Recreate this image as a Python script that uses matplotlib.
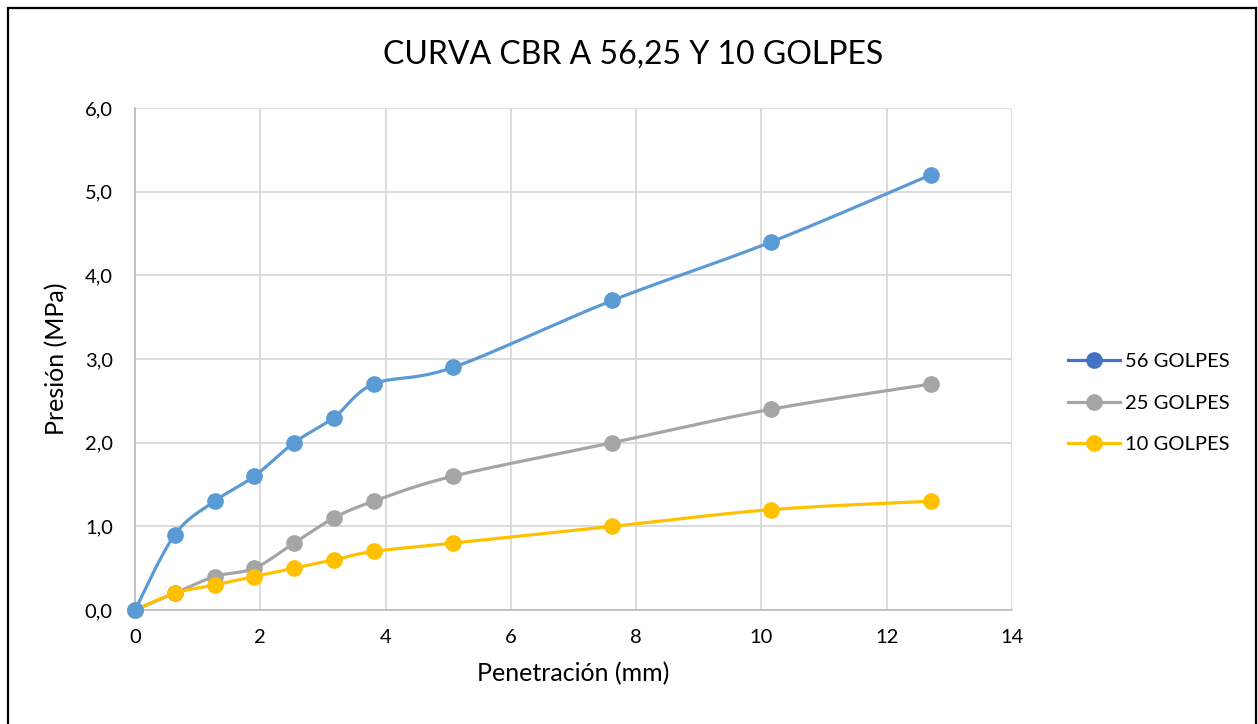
import numpy as np
import matplotlib.pyplot as plt
from matplotlib.lines import Line2D
from matplotlib.patches import Rectangle

plt.rcParams['font.family'] = ['Lato', 'DejaVu Sans']

# Penetración (mm) y presión (MPa) para cada energía de compactación
penetracion = [0, 0.635, 1.27, 1.905, 2.54, 3.175, 3.81, 5.08, 7.62, 10.16, 12.7]
golpes_56 = [0, 0.9, 1.3, 1.6, 2.0, 2.3, 2.7, 2.9, 3.7, 4.4, 5.2]
golpes_25 = [0, 0.2, 0.4, 0.5, 0.8, 1.1, 1.3, 1.6, 2.0, 2.4, 2.7]
golpes_10 = [0, 0.2, 0.3, 0.4, 0.5, 0.6, 0.7, 0.8, 1.0, 1.2, 1.3]
etiquetas = ['56 GOLPES', '25 GOLPES', '10 GOLPES']
colores = ['#5B9BD5', '#A5A5A5', '#FFC000']
colores_leyenda = ['#4472C4', '#A5A5A5', '#FFC000']


def suavizar(x, y, n=30):
    # curva tipo Excel: Bezier cubica con tangentes de Catmull-Rom
    x = np.asarray(x, float)
    y = np.asarray(y, float)
    xs, ys = [x[0]], [y[0]]
    for i in range(len(x) - 1):
        x0, y0 = (x[i - 1], y[i - 1]) if i > 0 else (x[i], y[i])
        x3, y3 = (x[i + 2], y[i + 2]) if i + 2 < len(x) else (x[i + 1], y[i + 1])
        c1x = x[i] + (x[i + 1] - x0) / 6
        c1y = y[i] + (y[i + 1] - y0) / 6
        c2x = x[i + 1] - (x3 - x[i]) / 6
        c2y = y[i + 1] - (y3 - y[i]) / 6
        t = np.linspace(0, 1, n)[1:]
        b0 = (1 - t) ** 3
        b1 = 3 * (1 - t) ** 2 * t
        b2 = 3 * (1 - t) * t ** 2
        b3 = t ** 3
        xs.extend(b0 * x[i] + b1 * c1x + b2 * c2x + b3 * x[i + 1])
        ys.extend(b0 * y[i] + b1 * c1y + b2 * c2y + b3 * y[i + 1])
    return np.array(xs), np.array(ys)


fig = plt.figure(figsize=(12.58, 7.24), dpi=100)
fig.patches.append(Rectangle((8 / 1258, -0.01), 1248 / 1258, 1 - 8 / 724 + 0.01,
                             transform=fig.transFigure, fill=False,
                             edgecolor='black', linewidth=1.6))

ax = fig.add_axes([135 / 1258, 114 / 724, 877 / 1258, 502 / 724])

# gris abajo, amarillo encima, azul arriba del todo
series = [golpes_56, golpes_25, golpes_10]
capas = [5, 3, 4]
for valores, color, z in zip(series, colores, capas):
    xs, ys = suavizar(penetracion, valores)
    ax.plot(xs, ys, color=color, linewidth=2.3, zorder=z, solid_capstyle='round',
            clip_on=False)
    ax.plot(penetracion, valores, 'o', color=color, markersize=11, zorder=z,
            clip_on=False)

ax.set_xlim(0, 14)
ax.set_ylim(0, 6)
ax.set_xticks(range(0, 15, 2))
ax.set_yticks(np.arange(0, 6.1, 1))
ax.set_yticklabels([f'{v:.1f}'.replace('.', ',') for v in np.arange(0, 6.1, 1)])
ax.grid(True, color='#D9D9D9', linewidth=1.3)
ax.set_axisbelow(True)
for lado in ['top', 'right']:
    ax.spines[lado].set_visible(False)
for lado in ['left', 'bottom']:
    ax.spines[lado].set_color('#BFBFBF')
    ax.spines[lado].set_linewidth(1.3)
ax.tick_params(length=0, labelsize=14.5, colors='#000000')
ax.tick_params(axis='x', pad=14)
ax.tick_params(axis='y', pad=16)

ax.set_xlabel('Penetración (mm)', fontsize=18, labelpad=11)
ax.set_ylabel('Presión (MPa)', fontsize=18, labelpad=12)
fig.text(633 / 1258, 1 - 55 / 724, 'CURVA CBR A 56,25 Y 10 GOLPES',
         ha='center', va='center', fontsize=23)

manejadores = [Line2D([0], [0], color=c, linewidth=2.3, marker='o', markersize=11)
               for c in colores_leyenda]
fig.legend(manejadores, etiquetas, loc='center left',
           bbox_to_anchor=(1050 / 1258, 1 - 403 / 724), frameon=False,
           fontsize=14.5, handlelength=2.6, labelspacing=1.2, handletextpad=0.2)

fig.savefig('out.png', dpi=100)
